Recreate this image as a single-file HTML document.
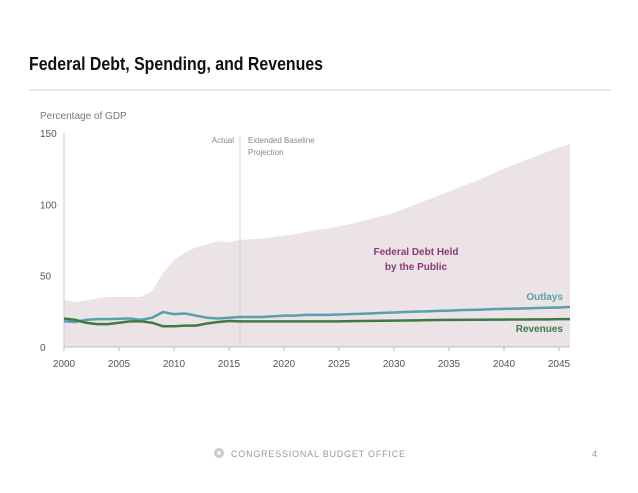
<!DOCTYPE html>
<html><head><meta charset="utf-8"><style>
html,body{margin:0;padding:0;background:#fff;}
svg{display:block;font-family:"Liberation Sans",sans-serif;}
</style></head><body>
<svg width="638" height="493" viewBox="0 0 638 493">
<text x="29" y="70" font-size="18" font-weight="bold" fill="#111" textLength="294" lengthAdjust="spacingAndGlyphs">Federal Debt, Spending, and Revenues</text>
<line x1="29" y1="90" x2="611" y2="90" stroke="#ddd" stroke-width="1.2"/>
<g id="chart"></g>
<circle cx="219" cy="453" r="5" fill="#ccc"/>
<circle cx="219" cy="453" r="2" fill="#eee"/>
<text x="231" y="457" font-size="9" fill="#999" textLength="174" lengthAdjust="spacing">CONGRESSIONAL BUDGET OFFICE</text>
<text x="592" y="457" font-size="9" fill="#999">4</text>
</svg>
<script>
const years=[2000,2001,2002,2003,2004,2005,2006,2007,2008,2009,2010,2011,2012,2013,2014,2015,2016,2017,2018,2019,2020,2021,2022,2023,2024,2025,2026,2027,2028,2029,2030,2031,2032,2033,2034,2035,2036,2037,2038,2039,2040,2041,2042,2043,2044,2045,2046];
const debt=[33,31.5,32.5,34,35,35,35,35,39,52,61,66,70,72,74,73.5,75,75.5,76,77,78,79,80.5,82,83,84.5,86,88,90,92,94,97,100,103,106,109,112,115,118,121.5,125,128,131,134,137,140,142];
const outlays=[18,17.5,19,19.5,19.5,19.8,20,19,20.5,24.5,23,23.5,22,20.5,20,20.5,21,21,21,21.5,22,22,22.5,22.5,22.5,22.8,23,23.3,23.6,23.9,24.2,24.5,24.8,25,25.3,25.5,25.8,26,26.2,26.5,26.7,26.9,27.1,27.3,27.5,27.7,28];
const revenues=[20,19,17,16,16,17,18,18,17,14.5,14.5,15,15,16.5,17.5,18.2,18,18,18,18,18,18,18,18,18,18,18.1,18.2,18.3,18.4,18.5,18.6,18.7,18.8,18.9,19,19,19.1,19.1,19.2,19.2,19.3,19.3,19.4,19.4,19.5,19.5];
const yTicks=[0,50,100,150];
const xTicks=[2000,2005,2010,2015,2020,2025,2030,2035,2040,2045];
const NS="http://www.w3.org/2000/svg";
const g=document.getElementById('chart');
const X=y=>64+(y-2000)*11.0;
const Y=v=>347-v*1.427;
function el(t,a){const e=document.createElementNS(NS,t);for(const k in a)e.setAttribute(k,a[k]);g.appendChild(e);return e;}
let d='M'+X(years[0])+','+Y(0);
years.forEach((y,i)=>{d+=' L'+X(y)+','+Y(debt[i]);});
d+=' L'+X(years[years.length-1])+','+Y(0)+' Z';
const area=el('path',{d:d,fill:'#ebe3e6'});


const ax=el('line',{x1:X(2000),y1:Y(0),x2:X(2046),y2:Y(0),stroke:'#bbb','stroke-width':1});


const yax=el('line',{x1:X(2000),y1:Y(150),x2:X(2000),y2:Y(0),stroke:'#ccc','stroke-width':1});


const dv=el('line',{x1:X(2016),y1:Y(148),x2:X(2016),y2:Y(0),stroke:'#ccc','stroke-width':0.8});


yTicks.forEach(v=>{
 const t=el('text',{x:40,y:Y(v)+4,'font-size':10,fill:'#555'});t.textContent=v;
 
 
});
xTicks.forEach(v=>{
 const tk=el('line',{x1:X(v),y1:Y(0),x2:X(v),y2:Y(0)+4,stroke:'#bbb'});
 
 
 const t=el('text',{x:X(v),y:Y(0)+20,'font-size':10,fill:'#555','text-anchor':'middle'});t.textContent=v;
 
 
});
function line(vals,color,name){
 let p='';years.forEach((y,i)=>{p+=(i?' L':'M')+X(y)+','+Y(vals[i]);});
 const e=el('path',{d:p,fill:'none',stroke:color,'stroke-width':2.5,'stroke-linejoin':'round'});
 
 
}
line(outlays,'#5a9fae','outlays-line');
line(revenues,'#3f7a45','revenues-line');
function txt(s,x,y,a){const t=el('text',Object.assign({x:x,y:y},a));t.textContent=s;return t;}
let t;
t=txt('Percentage of GDP',40,119,{'font-size':10,fill:'#777'});
t=txt('Actual',234,143,{'font-size':8,fill:'#888','text-anchor':'end'});
t=txt('Extended Baseline',248,143,{'font-size':8,fill:'#888'});
t=txt('Projection',248,155,{'font-size':8,fill:'#888'});
t=txt('Federal Debt Held',416,255,{'font-size':10,'font-weight':'bold',fill:'#8b3a78','text-anchor':'middle'});
t=txt('by the Public',416,270,{'font-size':10,'font-weight':'bold',fill:'#8b3a78','text-anchor':'middle'});
t=txt('Outlays',563,300,{'font-size':10,'font-weight':'bold',fill:'#5a9fae','text-anchor':'end'});
t=txt('Revenues',563,332,{'font-size':10,'font-weight':'bold',fill:'#3f7a45','text-anchor':'end'});
</script>
</body></html>
